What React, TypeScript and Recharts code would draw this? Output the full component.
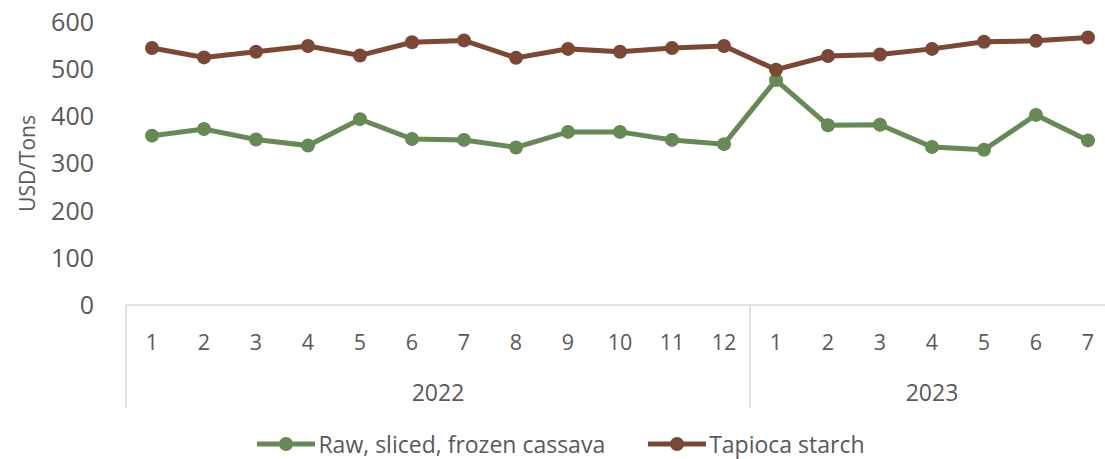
import React from 'react';
import { LineChart, Line, XAxis, YAxis, Legend } from 'recharts';

const periodYears = ['2022','2022','2022','2022','2022','2022','2022','2022','2022','2022','2022','2022','2023','2023','2023','2023','2023','2023','2023'];
const periodMonths = [1,2,3,4,5,6,7,8,9,10,11,12,1,2,3,4,5,6,7];
const rawCassava = [359,373,351,338,394,352,350,334,367,367,350,341,477,381,382,335,329,403,349];
const tapiocaStarch = [545,525,537,549,529,557,561,524,543,537,545,549,499,528,531,543,558,560,567];
const yTicks = [0,100,200,300,400,500,600];

const seriesNames = ['Raw, sliced, frozen cassava', 'Tapioca starch'];
const GREEN = '#668955';
const BROWN = '#7A4835';
const TEXT = '#595959';
const GRID = '#d9d9d9';
const FONT = '"Open Sans", "Noto Sans", sans-serif';

const data = periodMonths.map((m, i) => ({
  key: `${periodYears[i]}-${m}`,
  month: m,
  year: periodYears[i],
  raw: rawCassava[i],
  tapioca: tapiocaStarch[i],
}));

const MultiTick = (props: any) => {
  const { x, y, payload, width } = props;
  const i = payload.index;
  const band = width / data.length;
  const year = periodYears[i];
  const first = periodYears.indexOf(year);
  const last = periodYears.lastIndexOf(year);
  const isFirst = i === first;
  const isLast = i === periodYears.length - 1;
  return (
    <g>
      <text x={x} y={y + 36} textAnchor="middle" dominantBaseline="central" fill={TEXT} fontSize={21.5} fontFamily={FONT}>
        {periodMonths[i]}
      </text>
      {isFirst && (
        <line x1={x - band / 2} x2={x - band / 2} y1={y} y2={y + 103} stroke={GRID} strokeWidth={1.5} />
      )}
      {isLast && (
        <line x1={x + band / 2} x2={x + band / 2} y1={y} y2={y + 103} stroke={GRID} strokeWidth={1.5} />
      )}
      {isFirst && (
        <text x={x + ((last - first) / 2) * band} y={y + 87} textAnchor="middle" dominantBaseline="central" fill={TEXT} fontSize={23} fontFamily={FONT}>
          {year}
        </text>
      )}
    </g>
  );
};

const LegendContent = (props: any) => {
  const { payload } = props;
  return (
    <div style={{ display: 'flex', justifyContent: 'center', alignItems: 'center', fontFamily: FONT, fontSize: 23, color: TEXT }}>
      {(payload || []).map((p: any, idx: number) => (
        <div key={idx} style={{ display: 'flex', alignItems: 'center', marginLeft: idx === 0 ? 0 : 43 }}>
          <svg width={58} height={20} style={{ display: 'block' }}>
            <line x1={0} x2={58} y1={10} y2={10} stroke={p.color} strokeWidth={5} />
            <circle cx={29} cy={10} r={7} fill={p.color} />
          </svg>
          <span style={{ marginLeft: 3, lineHeight: '26px' }}>{p.value}</span>
        </div>
      ))}
    </div>
  );
};

const YLabel = (props: any) => {
  const vb = props.viewBox || { x: 0, y: 0, width: 0, height: 0 };
  const cx = vb.x + 27;
  const cy = vb.y + vb.height / 2;
  return (
    <text x={cx} y={cy} transform={`rotate(-90 ${cx} ${cy})`} textAnchor="middle" dominantBaseline="central" fill={TEXT} fontSize={21} fontFamily={FONT}>
      USD/Tons
    </text>
  );
};

export default function App() {
  return (
    <div style={{ position: 'fixed', left: 0, top: 0, width: 1105, height: 459, overflow: 'hidden', background: '#fff' }}>
      <LineChart width={1114} height={459} data={data} margin={{ top: 22, right: 0, bottom: 0, left: 0 }}>
        <XAxis
          dataKey="key"
          scale="band"
          height={154}
          interval={0}
          tickLine={false}
          tickSize={0}
          tickMargin={0}
          axisLine={{ stroke: GRID, strokeWidth: 1.5 }}
          tick={<MultiTick />}
        />
        <YAxis
          width={126}
          domain={[0, 600]}
          ticks={yTicks}
          axisLine={false}
          tickLine={false}
          tickSize={0}
          tickMargin={32}
          tick={{ fill: TEXT, fontSize: 25, fontFamily: FONT }}
          label={<YLabel />}
        />
        <Legend
          layout="horizontal"
          verticalAlign="middle"
          align="center"
          wrapperStyle={{ top: 431, left: 0, width: 1122 }}
          content={<LegendContent />}
        />
        <Line
          type="linear"
          dataKey="raw"
          name={seriesNames[0]}
          stroke={GREEN}
          strokeWidth={5}
          dot={{ r: 7, fill: GREEN, stroke: GREEN, strokeWidth: 0 }}
          activeDot={false}
          isAnimationActive={false}
        />
        <Line
          type="linear"
          dataKey="tapioca"
          name={seriesNames[1]}
          stroke={BROWN}
          strokeWidth={5}
          dot={{ r: 7, fill: BROWN, stroke: BROWN, strokeWidth: 0 }}
          activeDot={false}
          isAnimationActive={false}
        />
      </LineChart>
    </div>
  );
}
